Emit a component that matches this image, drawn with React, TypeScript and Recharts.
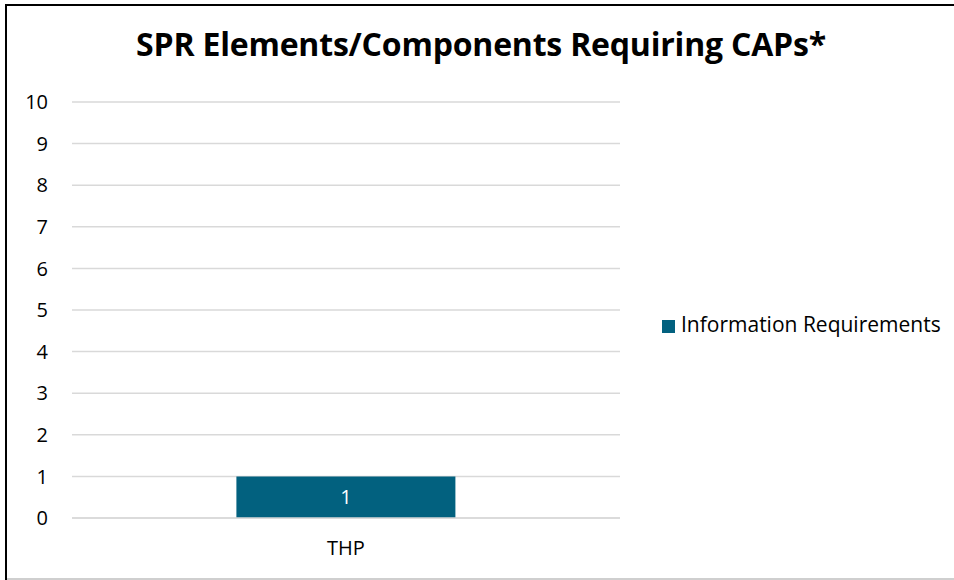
import { BarChart, Bar, XAxis, YAxis, CartesianGrid, Legend, LabelList } from "recharts"

// SPR elements requiring CAPs, by program
const programs = ["THP"]
const infoRequirements = [1]
const yTicks = [0, 1, 2, 3, 4, 5, 6, 7, 8, 9, 10]

const data = programs.map((p, i) => ({
  program: p,
  info: infoRequirements[i],
}))

const font = "'Open Sans', 'Noto Sans', sans-serif"

export default function App() {
  return (
    <div style={{ position: "absolute", left: 0, top: 0, width: 954, height: 580, background: "#fff", fontFamily: font }}>
      {/* frame */}
      <div style={{ position: "absolute", left: 5, top: 4, width: 949, height: 2, background: "#000" }} />
      <div style={{ position: "absolute", left: 5, top: 4, width: 2, height: 576, background: "#000" }} />
      <div style={{ position: "absolute", left: 7, top: 578, width: 947, height: 2, background: "#cfcfcf" }} />
      <div
        style={{
          position: "absolute",
          left: 0,
          top: 22,
          width: 962,
          textAlign: "center",
          fontSize: 32,
          fontWeight: 700,
          color: "#000",
          letterSpacing: -0.2,
        }}
      >
        SPR Elements/Components Requiring CAPs*
      </div>
      <BarChart
        width={954}
        height={580}
        data={data}
        margin={{ top: 102, right: 42, left: 0, bottom: 22 }}
        barCategoryGap="30%"
        style={{ position: "absolute", left: 0, top: 0 }}
      >
        <CartesianGrid vertical={false} stroke="#d9d9d9" strokeWidth={1.5} />
        <XAxis
          dataKey="program"
          height={40}
          axisLine={{ stroke: "#d9d9d9", strokeWidth: 1.5 }}
          tickLine={false}
          tickMargin={17}
          tick={{ fill: "#000", fontSize: 20, fontFamily: font }}
        />
        <YAxis
          width={72}
          domain={[0, 10]}
          ticks={yTicks}
          axisLine={false}
          tickLine={false}
          tickMargin={18}
          tick={{ fill: "#000", fontSize: 20, fontFamily: font }}
        />
        <Legend
          layout="vertical"
          align="right"
          verticalAlign="top"
          iconType="square"
          iconSize={13}
          wrapperStyle={{ left: 662, top: 310, width: 292, fontSize: 21, fontFamily: font }}
          formatter={(v) => <span style={{ color: "#000", marginLeft: 2 }}>{v}</span>}
        />
        <Bar dataKey="info" name="Information Requirements" fill="#02617f" isAnimationActive={false}>
          <LabelList dataKey="info" position="center" fill="#fff" fontSize={20} fontFamily={font} />
        </Bar>
      </BarChart>
    </div>
  )
}
